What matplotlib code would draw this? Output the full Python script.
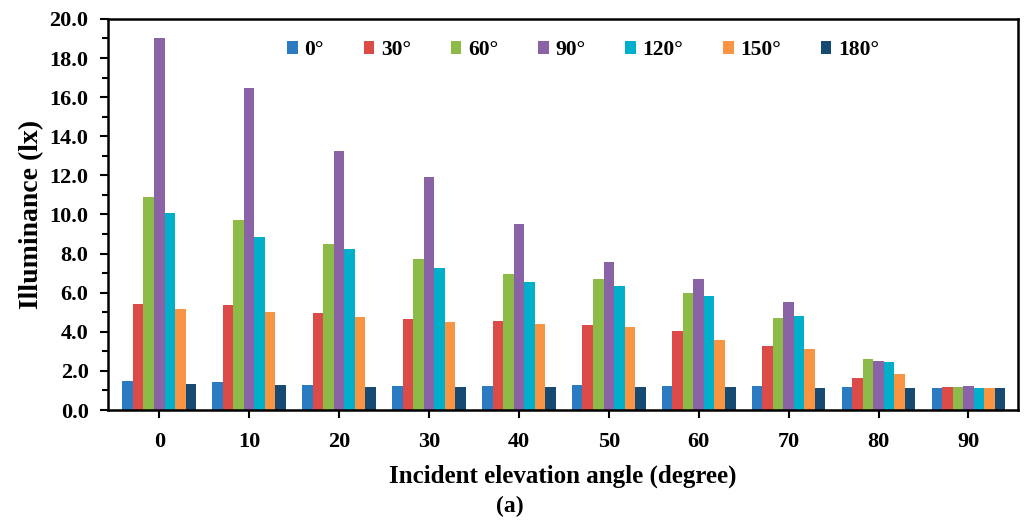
import numpy as np
import matplotlib
matplotlib.use("Agg")
import matplotlib.pyplot as plt
from matplotlib.ticker import MultipleLocator

plt.rcParams['font.family'] = ['Liberation Serif', 'DejaVu Serif']
plt.rcParams['font.weight'] = 'bold'

angles = [0, 10, 20, 30, 40, 50, 60, 70, 80, 90]
series_labels = ['0°', '30°', '60°', '90°', '120°', '150°', '180°']
s0 = [1.50, 1.45, 1.30, 1.25, 1.25, 1.30, 1.25, 1.25, 1.20, 1.15]
s30 = [5.40, 5.35, 4.95, 4.65, 4.55, 4.35, 4.05, 3.25, 1.65, 1.20]
s60 = [10.90, 9.70, 8.50, 7.70, 6.95, 6.70, 6.00, 4.70, 2.60, 1.20]
s90 = [19.00, 16.45, 13.25, 11.90, 9.50, 7.55, 6.70, 5.50, 2.50, 1.25]
s120 = [10.05, 8.85, 8.25, 7.25, 6.55, 6.35, 5.85, 4.80, 2.45, 1.15]
s150 = [5.15, 5.00, 4.75, 4.50, 4.40, 4.25, 3.60, 3.10, 1.85, 1.15]
s180 = [1.35, 1.30, 1.20, 1.20, 1.20, 1.20, 1.20, 1.15, 1.15, 1.15]
colors = ['#2B7BC2', '#DD4B48', '#8CBB48', '#8A62A6', '#00AFC9', '#F99542', '#164A73']

series = [s0, s30, s60, s90, s120, s150, s180]

fig = plt.figure(figsize=(10.24, 5.25), dpi=100)
ax = fig.add_axes([0.1055, 0.219, 0.8885, 0.745])

x = np.arange(len(angles))
w = 0.117
for i, (vals, lab, c) in enumerate(zip(series, series_labels, colors)):
    ax.bar(x + (i - 3) * w, vals, width=w, color=c, label=lab, linewidth=0)

ax.set_xlim(-0.57, 9.55)
ax.set_ylim(0, 20)
ax.set_xticks(x)
ax.set_xticklabels([str(a) for a in angles], fontsize=16, fontweight='bold')
ax.yaxis.set_minor_locator(MultipleLocator(1))
yt = np.arange(0, 20.1, 2)
ax.set_yticks(yt)
ax.set_yticklabels([f'{v:.1f}' for v in yt], fontsize=16, fontweight='bold')
ax.tick_params(axis='x', which='major', direction='out', length=6, width=1.5, pad=10)
ax.tick_params(axis='y', which='major', direction='out', length=6, width=1.5, pad=8)
ax.tick_params(axis='y', which='minor', direction='out', length=4, width=1.5)
for s in ax.spines.values():
    s.set_linewidth(1.8)

ax.set_ylabel('Illuminance (lx)', fontsize=20, fontweight='bold', labelpad=4)
ax.set_xlabel('Incident elevation angle (degree)', fontsize=18, fontweight='bold', labelpad=9)

ax.legend(loc='upper center', bbox_to_anchor=(0.522, 0.995), ncol=7, frameon=False,
          handlelength=0.5, handleheight=0.5, handletextpad=0.3,
          columnspacing=1.85, prop={'weight': 'bold', 'size': 15.5})

fig.text(0.498, 0.036, '(a)', ha='center', va='center', fontsize=17)

fig.savefig('out.png', dpi=100)
